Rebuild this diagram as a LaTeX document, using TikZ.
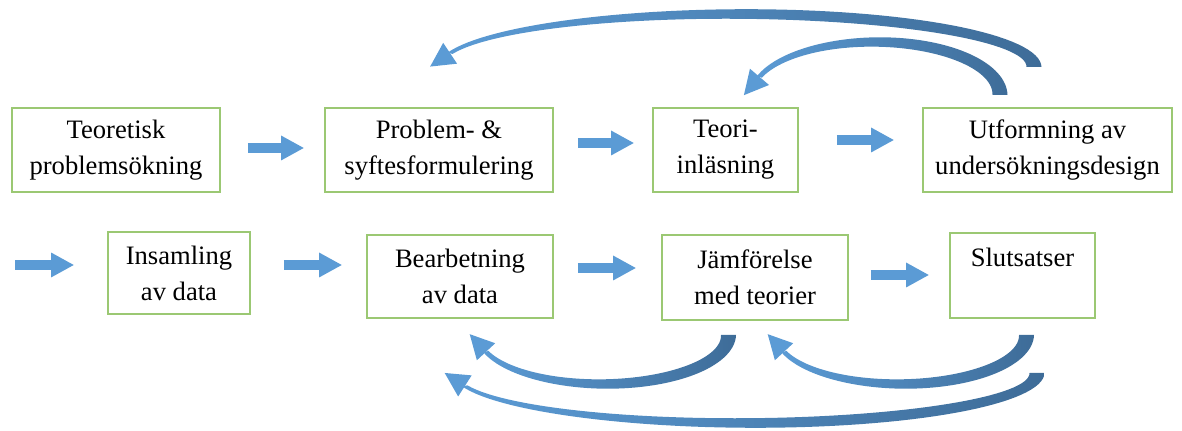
\documentclass[tikz,border=0pt]{standalone}
\usepackage{fontspec}
\setmainfont{Liberation Serif}
\usetikzlibrary{arrows.meta,calc}
\definecolor{rutgron}{RGB}{155,200,115}
\definecolor{pilljus}{RGB}{91,155,213}
\definecolor{pilmork}{RGB}{62,108,152}
\tikzset{
  ruta/.style={draw=rutgron, line width=0.8pt, inner sep=0pt, align=center,
    font=\fontsize{13.3}{18}\selectfont},
  blockpil/.style={draw=pilljus, line width=5pt,
    -{Triangle[width=11.5pt,length=11.5pt]}},
}
% bagpil: #1 mitt, #2 a, #3 b, #4 start, #5 slut, #6 riktning
\newcommand\bagpil[6]{%
  \begin{scope}[shift={(#1)}]
    \shade[left color=pilljus, right color=pilmork]
      plot[variable=\vinkel, domain=#4:#5, samples=60]
        ({(#2+7.5-5*(\vinkel-(#4))/((#5)-(#4)))*cos(\vinkel)},
         {(#3+7.5-5*(\vinkel-(#4))/((#5)-(#4)))*sin(\vinkel)})
      -- plot[variable=\vinkel, domain=#5:#4, samples=60]
        ({(#2-7.5+5*(\vinkel-(#4))/((#5)-(#4)))*cos(\vinkel)},
         {(#3-7.5+5*(\vinkel-(#4))/((#5)-(#4)))*sin(\vinkel)})
      -- cycle;
    \pgfmathsetmacro\pnx{(#2)*cos(#5)}
    \pgfmathsetmacro\pny{(#3)*sin(#5)}
    \pgfmathsetmacro\pux{-(#6)*(#2)*sin(#5)}
    \pgfmathsetmacro\puy{(#6)*(#3)*cos(#5)}
    \pgfmathsetmacro\pul{veclen(\pux,\puy)}
    \pgfmathsetmacro\pux{\pux/\pul}
    \pgfmathsetmacro\puy{\puy/\pul}
    \fill[pilljus] ({\pnx-12.5*\puy},{\pny+12.5*\pux})
      -- ({\pnx+24*\pux},{\pny+24*\puy})
      -- ({\pnx+12.5*\puy},{\pny-12.5*\pux}) -- cycle;
  \end{scope}}

\begin{document}
\begin{tikzpicture}[x=0.5pt, y=-0.5pt]
  \useasboundingbox (0,0) rectangle (1182,431);

  % forsta raden
  \node[ruta, minimum width=104pt, minimum height=42pt] (teoretisk) at (116,150)
    {Teoretisk\\problemsökning};
  \node[ruta, minimum width=114pt, minimum height=42pt] (problem) at (439,150)
    {Problem- \&\\syftesformulering};
  \node[ruta, minimum width=72.5pt, minimum height=42pt] (teori) at (725.5,150)
    {Teori-\\inläsning};
  \node[ruta, minimum width=124.5pt, minimum height=42pt] (utformning) at (1047.5,150)
    {Utformning av\\undersökningsdesign};

  % andra raden
  \node[ruta, minimum width=71pt, minimum height=41pt] (insamling) at (179,273)
    {Insamling\\av data};
  \node[ruta, minimum width=93pt, minimum height=41.5pt] (bearbetning) at (460,276.5)
    {Bearbetning\\av data};
  \node[ruta, minimum width=93pt, minimum height=42.5pt] (jamforelse) at (755,277.5)
    {Jämförelse\\med teorier};
  \node[ruta, minimum width=72.5pt, minimum height=42.5pt] (slutsatser) at (1022.5,275.5)
    {Slutsatser\\\mbox{}};

  % raka pilar
  \draw[blockpil] ($(teoretisk.east)+(27,-2)$) -- ($(problem.west)+(-20,-2)$);
  \draw[blockpil] ($(problem.east)+(24,-7)$) -- ($(teori.west)+(-18,-7)$);
  \draw[blockpil] ($(teori.east)+(38,-10)$) -- ($(utformning.west)+(-28,-10)$);
  \coordinate (radstart) at (15,265);
  \draw[blockpil] (radstart) -- ($(insamling.west)+(-33,-8)$);
  \draw[blockpil] ($(insamling.east)+(33,-8)$) -- ($(bearbetning.west)+(-24,-11.5)$);
  \draw[blockpil] ($(bearbetning.east)+(24,-8.5)$) -- ($(jamforelse.west)+(-25,-9.5)$);
  \draw[blockpil] ($(jamforelse.east)+(22,-2.5)$) -- ($(slutsatser.west)+(-20,-0.5)$);

  % bagpilar
  \coordinate (mitt1) at (737,67);
  \coordinate (mitt2) at (876,95);
  \coordinate (mitt3) at (603.5,335);
  \coordinate (mitt4) at (901.5,335);
  \coordinate (mitt5) at (746,373);
  \bagpil{mitt1}{297}{53}{0}{-165}{-1}
  \bagpil{mitt2}{124}{53}{0}{-160}{-1}
  \bagpil{mitt3}{125}{49}{0}{160}{1}
  \bagpil{mitt4}{125}{49}{0}{160}{1}
  \bagpil{mitt5}{291}{50}{0}{165}{1}
\end{tikzpicture}
\end{document}
